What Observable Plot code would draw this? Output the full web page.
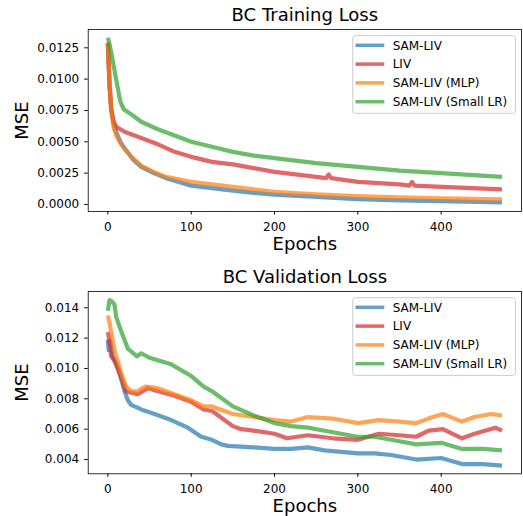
<!DOCTYPE html>
<html><head><meta charset="utf-8">
<script src="https://cdn.jsdelivr.net/npm/d3@7"></script>
<script src="https://cdn.jsdelivr.net/npm/@observablehq/plot@0.6"></script>
<style>body{margin:0;background:#fff;} svg{display:block;}</style>
</head><body><div id="c"></div>
<script>
const seriesNames = ["SAM-LIV", "LIV", "SAM-LIV (MLP)", "SAM-LIV (Small LR)"];
const seriesColors = ["#1f77b4", "#d62728", "#ff7f0e", "#2ca02c"];
const xTicks = [0, 100, 200, 300, 400];
const trainYTicks = [0, 0.0025, 0.005, 0.0075, 0.01, 0.0125];
const valYTicks = [0.004, 0.006, 0.008, 0.01, 0.012, 0.014];

// BC Training Loss: [epoch, MSE]
const trainSamLiv = [[0,0.0128],[2,0.0095],[4,0.0076],[7,0.0064],[10,0.0058],[15,0.0050],[20,0.0045],[30,0.0036],[40,0.0030],[55,0.0025],[70,0.0021],[85,0.0018],[100,0.0015],[125,0.0013],[150,0.0011],[175,0.00093],[200,0.00078],[250,0.0006],[300,0.00043],[350,0.00033],[400,0.00026],[473,0.00016]];
const trainLiv = [[0,0.0129],[2,0.0095],[4,0.0076],[7,0.0066],[10,0.0062],[20,0.0058],[40,0.0053],[60,0.0048],[80,0.0042],[100,0.0038],[125,0.0034],[150,0.0032],[175,0.0029],[200,0.0026],[250,0.0022],[262,0.0021],[265,0.0024],[268,0.0021],[300,0.0018],[350,0.0016],[362,0.0015],[365,0.0018],[368,0.0015],[400,0.0014],[473,0.0012]];
const trainMlp = [[0,0.0129],[2,0.0098],[4,0.0075],[7,0.0061],[10,0.0055],[15,0.0049],[20,0.0044],[30,0.0037],[40,0.0031],[55,0.0026],[70,0.0022],[85,0.0020],[100,0.0018],[125,0.0016],[150,0.0014],[175,0.0012],[200,0.0010],[250,0.0008],[300,0.00066],[350,0.00056],[400,0.00048],[473,0.0004]];
const trainSmallLr = [[0,0.0133],[2,0.0128],[5,0.0118],[8,0.0107],[11,0.0096],[15,0.0082],[19,0.0076],[30,0.0071],[40,0.0066],[60,0.0060],[80,0.0055],[100,0.0050],[125,0.0046],[150,0.0042],[175,0.0039],[200,0.0037],[250,0.0033],[300,0.0030],[350,0.0027],[400,0.0025],[473,0.0022]];

// BC Validation Loss: [epoch, MSE]
const valSamLiv = [[0,0.0119],[1,0.0112],[3,0.0118],[6,0.0108],[12,0.0101],[20,0.0085],[24,0.0079],[28,0.0076],[40,0.0073],[56,0.0070],[76,0.0066],[96,0.0061],[112,0.0055],[125,0.0053],[136,0.0050],[144,0.0049],[175,0.0048],[200,0.0047],[220,0.0047],[240,0.0048],[260,0.0046],[280,0.0045],[300,0.0044],[320,0.0044],[340,0.0043],[370,0.0040],[400,0.0041],[425,0.0037],[450,0.0037],[473,0.0036]];
const valLiv = [[0,0.0124],[2,0.0118],[4,0.0108],[8,0.0105],[16,0.0094],[22,0.0085],[28,0.0084],[36,0.0083],[48,0.0087],[60,0.0085],[80,0.0082],[100,0.0078],[115,0.0073],[125,0.0072],[150,0.0062],[160,0.0060],[175,0.0059],[200,0.0057],[215,0.0054],[240,0.0056],[270,0.0054],[300,0.0053],[325,0.0057],[350,0.0056],[370,0.0055],[385,0.0059],[402,0.0060],[425,0.0054],[440,0.0057],[465,0.0061],[473,0.0059]];
const valMlp = [[0,0.0135],[2,0.0130],[4,0.0124],[8,0.0112],[16,0.0097],[22,0.0088],[28,0.0085],[35,0.0085],[45,0.0088],[60,0.0087],[80,0.0083],[100,0.0079],[115,0.0075],[125,0.0075],[150,0.0070],[175,0.0068],[200,0.0066],[220,0.0065],[240,0.0068],[270,0.0067],[300,0.0064],[325,0.0066],[350,0.0065],[370,0.0064],[390,0.0068],[402,0.0070],[425,0.0065],[440,0.0068],[460,0.0070],[473,0.0069]];
const valSmallLr = [[0,0.0138],[2,0.0145],[5,0.0144],[8,0.0142],[10,0.0134],[15,0.0126],[24,0.0113],[35,0.0108],[40,0.0110],[50,0.0107],[75,0.0103],[100,0.0095],[115,0.0088],[125,0.0085],[150,0.0075],[175,0.0069],[190,0.0066],[200,0.0064],[220,0.0062],[240,0.0061],[260,0.0059],[280,0.0057],[300,0.0055],[320,0.0055],[340,0.0053],[370,0.0050],[400,0.0051],[425,0.0047],[450,0.0047],[473,0.0046]];

const FONT = "DejaVu Sans, sans-serif";

function makeChart({title, series, yDomain, yTicks, yFormat, height, marginTop, marginBottom}) {
  const marginLeft = 87.7, marginRight = 2;
  const lines = series.map((data, i) => Plot.line(data, {
    x: d => d[0], y: d => d[1], stroke: seriesColors[i],
    strokeWidth: 4.2, strokeOpacity: 0.7, strokeLinejoin: "round", strokeLinecap: "butt"
  }));
  const svg = Plot.plot({
    width: 523, height, marginLeft, marginRight, marginTop, marginBottom,
    x: {domain: [-23.6, 496.4]},
    y: {domain: yDomain},
    style: {fontFamily: FONT, fontSize: "12px", color: "#000", background: "#fff", overflow: "visible"},
    marks: [
      ...lines,
      Plot.frame({stroke: "#000", strokeWidth: 0.8}),
      Plot.axisX({ticks: xTicks, tickSize: 3.5, tickPadding: 7, label: null, fontSize: 12, tickFormat: d3.format("d")}),
      Plot.axisY({ticks: yTicks, tickSize: 3.5, tickPadding: 5.5, label: null, fontSize: 12, tickFormat: d3.format(yFormat)}),
      Plot.text([title], {text: d => d, frameAnchor: "top", lineAnchor: "middle", textAnchor: "middle", dy: -14.5, fontSize: 18}),
      Plot.text(["Epochs"], {text: d => d, frameAnchor: "bottom", lineAnchor: "middle", textAnchor: "middle", dy: 32.7, fontSize: 18}),
      Plot.text(["MSE"], {text: d => d, frameAnchor: "left", lineAnchor: "middle", textAnchor: "middle", dx: -66, rotate: -90, fontSize: 18})
    ]
  });
  // legend (upper right)
  const g = d3.select(svg).append("g").attr("font-family", FONT).attr("font-size", 12).attr("text-anchor", "start");
  const boxTop = marginTop + 6.7;
  g.append("rect").attr("x", 352.7).attr("y", boxTop).attr("width", 162.8).attr("height", 77.7)
    .attr("rx", 3).attr("fill", "#fff").attr("fill-opacity", 0.8).attr("stroke", "#ccc").attr("stroke-width", 1);
  seriesNames.forEach((name, i) => {
    const y = boxTop + 9.6 + i * 18.8;
    g.append("line").attr("x1", 355.5).attr("x2", 384.3).attr("y1", y).attr("y2", y)
      .attr("stroke", seriesColors[i]).attr("stroke-width", 3.5).attr("stroke-opacity", 0.7);
    g.append("text").attr("x", 392.7).attr("y", y).attr("dy", "0.35em").attr("text-anchor", "start").attr("fill", "#000").text(name);
  });
  return svg;
}

const root = document.getElementById("c");
root.appendChild(makeChart({
  title: "BC Training Loss",
  series: [trainSamLiv, trainLiv, trainMlp, trainSmallLr],
  yDomain: [-0.00056, 0.01396], yTicks: trainYTicks, yFormat: ".4f",
  height: 260, marginTop: 29, marginBottom: 49
}));
root.appendChild(makeChart({
  title: "BC Validation Loss",
  series: [valSamLiv, valLiv, valMlp, valSmallLr],
  yDomain: [0.00306, 0.01507], yTicks: valYTicks, yFormat: ".3f",
  height: 256, marginTop: 31, marginBottom: 42.7
}));
</script>
</body></html>
